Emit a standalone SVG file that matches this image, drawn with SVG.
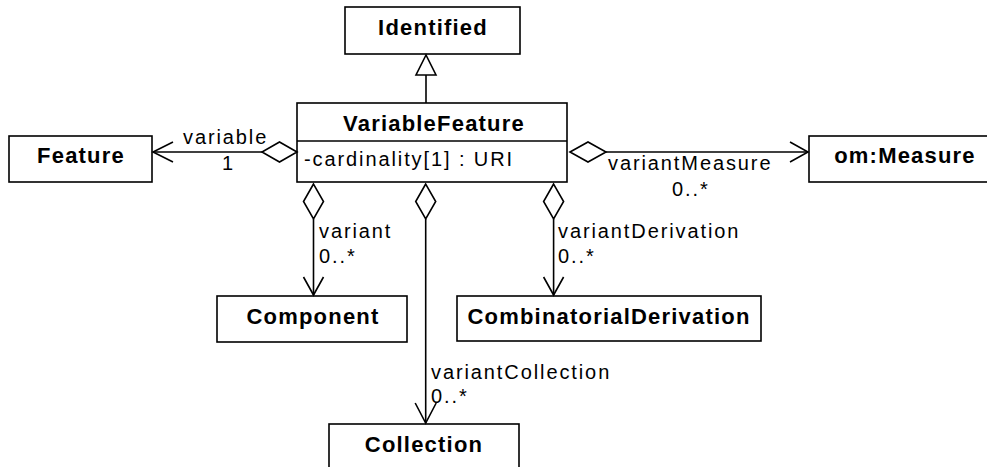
<svg xmlns="http://www.w3.org/2000/svg" width="987" height="467" viewBox="0 0 987 467">
<defs>
<style>
.box{fill:#fff;stroke:#000;stroke-width:1.6}
.t{font-family:"Liberation Sans",Arial,sans-serif;font-weight:bold;font-size:22px;letter-spacing:1.2px;text-anchor:middle;fill:#000}
.l{font-family:"Liberation Sans",Arial,sans-serif;font-size:20px;letter-spacing:1.9px;fill:#000}
.ln{fill:none;stroke:#000;stroke-width:1.6}
.dia{fill:#fff;stroke:#000;stroke-width:1.6}
</style>
</defs>
<rect width="987" height="467" fill="#fff"/>
<g id="Identified">
<rect class="box" x="345" y="7" width="175" height="47"/>
<text class="t" x="433" y="35">Identified</text>
</g>
<g id="VariableFeature">
<rect class="box" x="297" y="103" width="270" height="79"/>
<line class="ln" x1="297" y1="141" x2="567" y2="141"/>
<text class="t" x="434" y="131">VariableFeature</text>
<text class="l" x="304" y="166">-cardinality[1] : URI</text>
</g>
<g id="Feature">
<rect class="box" x="9" y="136" width="143" height="46"/>
<text class="t" x="81" y="163">Feature</text>
</g>
<g id="Measure">
<rect class="box" x="809" y="136" width="192" height="46"/>
<text class="t" x="905" y="163">om:Measure</text>
</g>
<g id="Component">
<rect class="box" x="217" y="296" width="190" height="46"/>
<text class="t" x="313" y="324">Component</text>
</g>
<g id="CombinatorialDerivation">
<rect class="box" x="457" y="296" width="304" height="45"/>
<text class="t" x="609" y="324">CombinatorialDerivation</text>
</g>
<g id="Collection">
<rect class="box" x="329" y="424" width="190" height="50"/>
<text class="t" x="424" y="452">Collection</text>
</g>
<g id="connectors">
<line class="ln" x1="426" y1="103" x2="426" y2="75"/>
<polygon class="dia" points="426,55 416,75 436,75"/>
<line class="ln" x1="262" y1="152" x2="153" y2="152"/>
<polyline class="ln" points="173,142 153,152 173,162"/>
<polygon class="dia" points="297,152 279.5,142 262,152 279.5,162"/>
<text class="l" x="183" y="144">variable</text>
<text class="l" x="222" y="170">1</text>
<line class="ln" x1="606" y1="152" x2="808" y2="152"/>
<polyline class="ln" points="790,142 808,152 790,162"/>
<polygon class="dia" points="570,152 588,142 606,152 588,162"/>
<text class="l" x="608" y="170">variantMeasure</text>
<text class="l" x="672" y="196">0..*</text>
<line class="ln" x1="313.5" y1="219" x2="313.5" y2="295"/>
<polyline class="ln" points="303.5,277 313.5,295 323.5,277"/>
<polygon class="dia" points="313.5,184 303.5,201.5 313.5,219 323.5,201.5"/>
<text class="l" x="319" y="238">variant</text>
<text class="l" x="319" y="263">0..*</text>
<line class="ln" x1="425.7" y1="219" x2="425.7" y2="423"/>
<polyline class="ln" points="415.2,403 425.7,423 436.2,403"/>
<polygon class="dia" points="425.7,184 415.7,201.5 425.7,219 435.7,201.5"/>
<text class="l" x="431" y="379">variantCollection</text>
<text class="l" x="431" y="403">0..*</text>
<line class="ln" x1="553.6" y1="219" x2="553.6" y2="295"/>
<polyline class="ln" points="543.6,277 553.6,295 563.6,277"/>
<polygon class="dia" points="553.6,184 543.6,201.5 553.6,219 563.6,201.5"/>
<text class="l" x="558" y="238">variantDerivation</text>
<text class="l" x="558" y="263">0..*</text>
</g>
</svg>
